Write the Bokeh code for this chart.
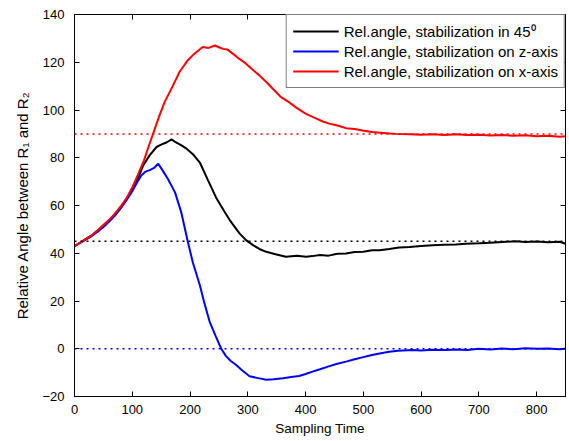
from bokeh.plotting import figure
from bokeh.models import (Range1d, SingleIntervalTicker, LinearAxis, Span, Legend, LegendItem,
                          CustomJSTickFormatter)
from bokeh.embed import file_html
from bokeh.resources import INLINE

# ---- data ----
x_black = [0, 10, 20, 30, 40, 50, 60, 70, 80, 90, 100, 110, 119, 130, 142, 150, 160, 168, 175, 183,
           194, 205, 217, 231, 246, 260, 269, 286, 297, 309, 320, 332, 348, 366,
           385, 401, 412, 425, 440, 455, 470, 485, 500, 515, 528, 545, 562, 580, 600, 620, 640, 660,
           677, 700, 720, 740, 764, 780, 800, 820, 840, 850]
y_black = [43, 44.5, 46, 47.5, 49.5, 51.6, 53.8, 56.4, 59.4, 62.8, 66.8, 71.5, 76.8, 81, 84.5, 85.5, 86.5, 87.7, 86.5, 85.5,
           83.8, 81.5, 78, 70.6, 62.9, 57.3, 53.8, 48.2, 45.5, 43.4, 41.8, 40.6, 39.6, 38.5,
           39, 38.5, 38.8, 39.3, 39, 39.8, 39.9, 40.5, 40.6, 41.3, 41.3, 41.8, 42.4, 42.6, 43, 43.3, 43.6, 43.7,
           44, 44.2, 44.4, 44.7, 45, 44.7, 44.9, 44.6, 44.8, 44]

x_blue = [0, 10, 20, 30, 40, 50, 60, 70, 80, 90, 100, 108, 116, 123, 130, 138, 145, 153, 162, 174, 185,
          196, 205, 217, 225, 234, 245, 254, 262, 270, 280, 290, 303, 318, 332, 345, 361, 375, 389,
          400, 412, 425, 440, 455, 470, 485, 500, 515, 528, 545, 560, 585, 600, 620, 643, 660, 680, 700,
          720, 740, 760, 780, 800, 820, 840, 850]
y_blue = [43, 44.3, 45.8, 47.2, 49, 51, 53.3, 55.8, 58.8, 62.2, 66, 69.5, 72.7, 74.2, 74.8, 75.8, 77.5, 74.5, 71, 65.5, 57,
          45, 36, 26.6, 19, 11.3, 5, 0, -3, -5, -6.8, -9, -11.5, -12.3, -13, -12.8, -12.4, -11.8, -11.4,
          -10.6, -9.6, -8.6, -7.4, -6.3, -5.4, -4.4, -3.5, -2.6, -2, -1.3, -0.8, -0.5, -0.7, -0.4, -0.5, -0.3, -0.5, 0,
          -0.3, 0.1, -0.2, 0.2, 0, 0.1, -0.2, 0]

x_red = [0, 10, 20, 30, 40, 50, 60, 70, 80, 90, 100, 110, 120, 128, 136, 146, 156, 170, 182, 195, 205,
         215, 222, 232, 243, 250, 257, 265, 274, 285, 297, 308, 320, 333, 345, 357, 370, 384, 400, 415,
         430, 441, 455, 470, 485, 499, 515, 530, 545, 556, 580, 600, 620, 640, 660, 680, 700, 720, 740,
         760, 780, 800, 820, 840, 850]
y_red = [43, 44.5, 46, 47.5, 49.5, 51.8, 54, 56.6, 59.6, 63, 67.5, 73, 78.7, 84.5, 90, 97, 103.3, 110, 116, 120.5, 123,
         125, 126.4, 126, 127, 126.3, 125.6, 125.3, 123.6, 121.5, 119.4, 117, 114.5, 111.5, 108.5, 105.5, 103.5, 101, 98.5, 96.8,
         95.2, 94.3, 93.5, 92.4, 92, 91.4, 90.8, 90.5, 90.2, 90, 89.8, 89.6, 89.8, 89.5, 89.8, 89.5, 89.6, 89.3, 89.5,
         89.2, 89.4, 89, 89.2, 88.8, 89]

targets = [45, 0, 90]
colors = ["black", "#0000ff", "#ff0000"]
labels = ["Rel.angle, stabilization in 45\u2070",
          "Rel.angle, stabilization on z-axis",
          "Rel.angle, stabilization on x-axis"]

FONT = "Liberation Sans"

p = figure(width=569, height=441, output_backend="svg", toolbar_location=None,
           x_range=Range1d(0, 850), y_range=Range1d(-20, 140),
           min_border_left=74, min_border_right=2, min_border_top=14, min_border_bottom=45,
           background_fill_color="white", border_fill_color="white")
p.grid.visible = False
p.outline_line_color = "black"
p.outline_line_width = 1

for ax, interval in ((p.xaxis[0], 100), (p.yaxis[0], 20)):
    ax.ticker = SingleIntervalTicker(interval=interval)
    ax.minor_tick_line_color = None
    ax.major_tick_in = 5
    ax.major_tick_out = 0
    ax.axis_line_color = "black"
    ax.major_tick_line_color = "black"
    ax.major_label_text_font = FONT
    ax.major_label_text_font_size = "13px"
    ax.major_label_text_color = "black"
    ax.axis_label_text_font = FONT
    ax.axis_label_text_font_style = "normal"
    ax.axis_label_text_color = "black"

p.xaxis.axis_label = "Sampling Time"
p.yaxis.axis_label = "Relative Angle between R\u2081 and R\u2082"
p.xaxis.axis_label_text_font_size = "13.5px"
p.yaxis.axis_label_text_font_size = "15px"
p.xaxis.major_label_standoff = 4
p.yaxis.major_label_standoff = 6
p.xaxis.axis_label_standoff = 4
p.yaxis.axis_label_standoff = 8

blank = CustomJSTickFormatter(code="return ''")
for side, interval in (("above", 100), ("right", 20)):
    ax = LinearAxis(ticker=SingleIntervalTicker(interval=interval), formatter=blank,
                    major_label_standoff=0,
                    major_tick_in=5, major_tick_out=0, minor_tick_line_color=None,
                    axis_line_color="black", major_tick_line_color="black")
    p.add_layout(ax, side)

renderers = []
for xs, ys, c in ((x_black, y_black, colors[0]), (x_blue, y_blue, colors[1]), (x_red, y_red, colors[2])):
    renderers.append(p.line(xs, ys, line_color=c, line_width=2))

for t, c in zip(targets, colors):
    p.add_layout(Span(location=t, dimension="width", line_color=c, line_width=1.5, line_dash="2 4"))

legend = Legend(items=[LegendItem(label=l, renderers=[r]) for l, r in zip(labels, renderers)],
                location="top_right", margin=0, padding=6, spacing=0,
                glyph_width=46, glyph_height=20, label_height=20, label_standoff=5,
                label_text_font=FONT, label_text_font_size="15px", label_text_color="black",
                border_line_color="black", border_line_width=1, background_fill_color="white",
                background_fill_alpha=1)
p.add_layout(legend)

open("out.html", "w").write(file_html(p, INLINE))
